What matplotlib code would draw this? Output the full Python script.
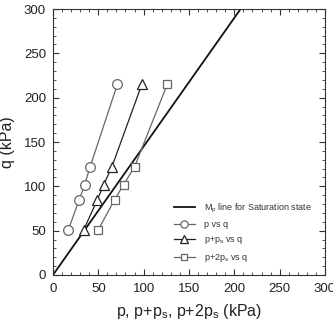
import matplotlib
matplotlib.use("Agg")
import matplotlib.pyplot as plt
import numpy as np
from matplotlib.ticker import MultipleLocator

plt.rcParams['font.family'] = ['Liberation Sans', 'DejaVu Sans']
plt.rcParams['mathtext.fontset'] = 'custom'
plt.rcParams['mathtext.rm'] = 'Liberation Sans'
plt.rcParams['mathtext.it'] = 'Liberation Sans'

q_vals = [51, 85, 102, 122, 215]
p_vals = [17, 29, 35, 41, 71]
p_ps_vals = [34, 49, 56, 65, 98]
p_2ps_vals = [50, 68, 78, 90, 126]
mp_slope = 1.45
mp_p = [0, 220]

fig = plt.figure(figsize=(3.33, 3.22), dpi=100)
ax = fig.add_axes([0.159, 0.146, 0.817, 0.826])

mp_q = [mp_slope * v for v in mp_p]
ax.plot(mp_p, mp_q, color='#111111', lw=1.3, label='M$_\\mathrm{p}$ line for Saturation state', zorder=2)
ax.plot(p_vals, q_vals, color='#666666', lw=0.9, marker='o', ms=7, mfc='white', mec='#666666', mew=0.9,
        label='p vs q', zorder=3)
ax.plot(p_ps_vals, q_vals, color='#222222', lw=0.9, marker='^', ms=7, mfc='white', mec='#222222', mew=0.9,
        label='p+p$_\\mathrm{s}$ vs q', zorder=3)
ax.plot(p_2ps_vals, q_vals, color='#666666', lw=0.9, marker='s', ms=6, mfc='white', mec='#666666', mew=0.9,
        label='p+2p$_\\mathrm{s}$ vs q', zorder=3)

ax.set_xlim(0, 300)
ax.set_ylim(0, 300)
ax.xaxis.set_major_locator(MultipleLocator(50))
ax.yaxis.set_major_locator(MultipleLocator(50))
ax.xaxis.set_minor_locator(MultipleLocator(10))
ax.yaxis.set_minor_locator(MultipleLocator(10))
ax.tick_params(which='both', direction='in', top=True, right=True, labelsize=9.5, color='#333333',
               labelcolor='#222222')
ax.tick_params(axis='x', which='major', length=4, width=0.8, pad=6)
ax.tick_params(axis='y', which='major', length=4, width=0.8, pad=5)
ax.tick_params(which='minor', length=2.2, width=0.6)
for s in ax.spines.values():
    s.set_linewidth(0.8)
    s.set_color('#333333')

ax.set_xlabel('p, p+p$_\\mathrm{s}$, p+2p$_\\mathrm{s}$ (kPa)', fontsize=11.5, labelpad=5, color='#222222')
ax.set_ylabel('q (kPa)', fontsize=11.5, labelpad=6, color='#222222')

leg = ax.legend(loc='upper left', bbox_to_anchor=(0.42, 0.3), frameon=False, fontsize=6.5,
                handlelength=2.4, handletextpad=1.0, labelspacing=0.6, borderpad=0.2, markerscale=0.75)
for t in leg.get_texts():
    t.set_color('#333333')

fig.savefig('out.png', dpi=100)
